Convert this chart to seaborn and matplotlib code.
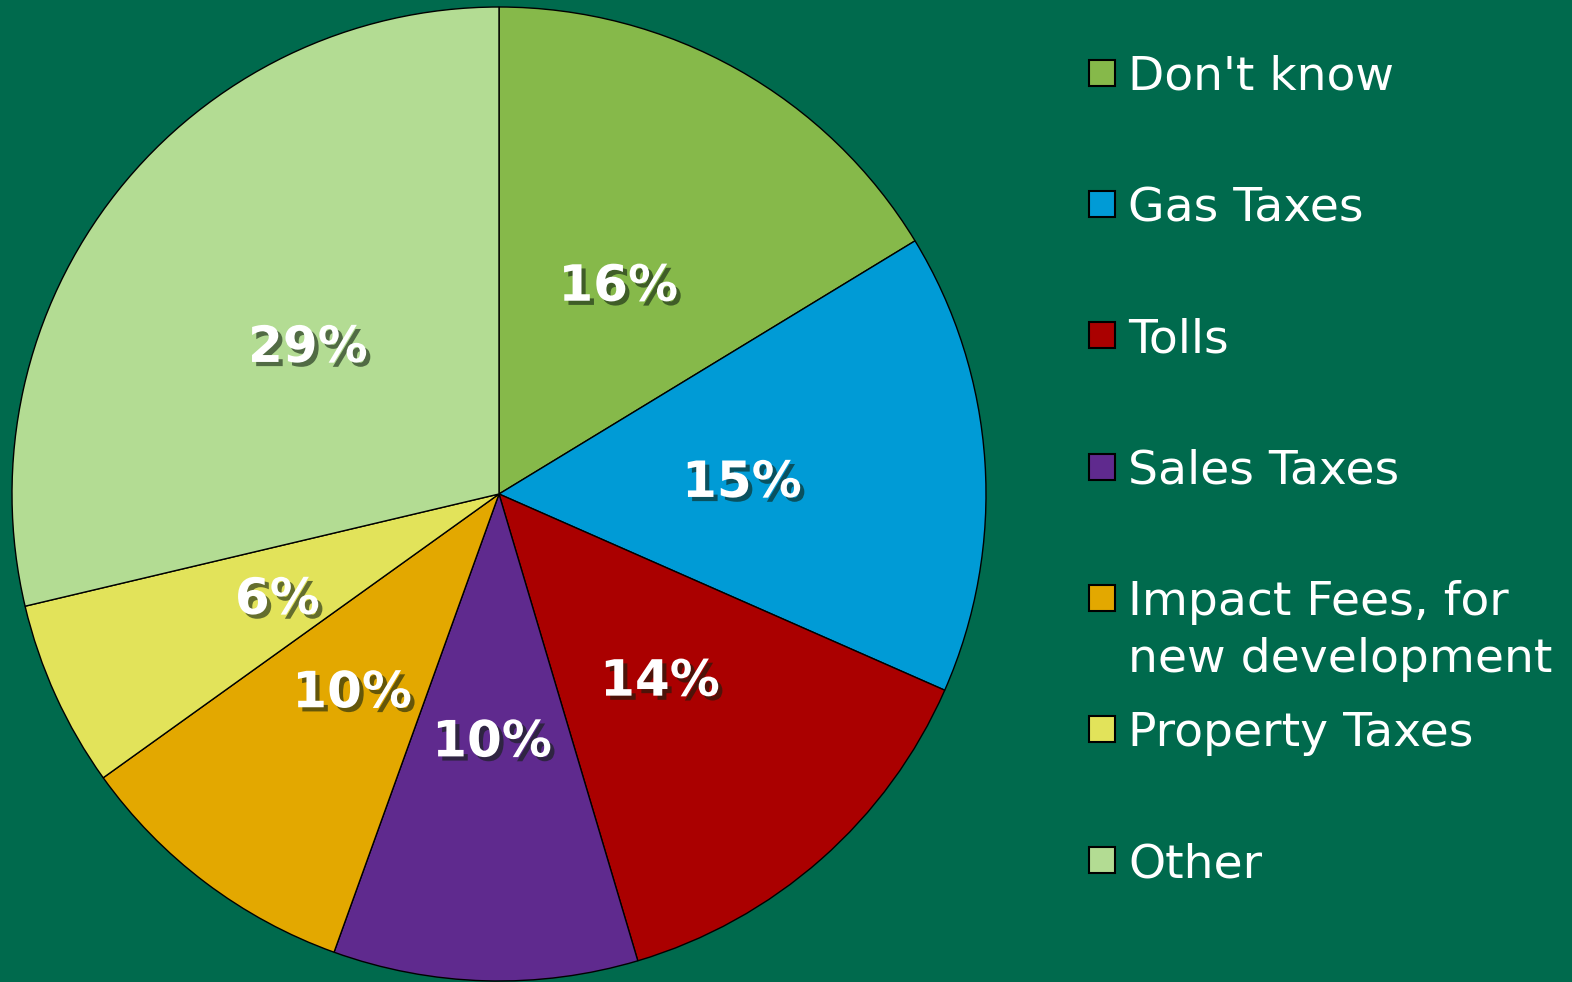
import seaborn as sns
import matplotlib.pyplot as plt
import matplotlib.patheffects as pe
from matplotlib.patches import Rectangle

# survey answers, clockwise from 12 o'clock
labels = ["Don't know", "Gas Taxes", "Tolls", "Sales Taxes",
          "Impact Fees, for\nnew development", "Property Taxes", "Other"]
shares = [16.3, 15.3, 13.8, 10.1, 9.6, 6.2, 28.7]
colors = ["#86B94A", "#009BD6", "#AA0000", "#5F2A8E",
          "#E3A800", "#E2E35A", "#B3DC93"]

bg = "#006A4D"

sns.set_style("white")
plt.rcParams["font.family"] = ["DejaVu Sans"]

W, H = 1572, 982
fig = plt.figure(figsize=(W / 100, H / 100), dpi=100, facecolor=bg)

# pie: centre (499, 494) px, radius ~487 px
r = 487
cx, cy = 499, 494
ax = fig.add_axes([(cx - r) / W, (H - cy - r) / H, 2 * r / W, 2 * r / H])
ax.set_facecolor(bg)

wedges, texts, autotexts = ax.pie(
    shares, colors=colors, startangle=90, counterclock=False,
    autopct="%.0f%%", pctdistance=0.5, radius=1,
    wedgeprops=dict(edgecolor="black", linewidth=1.0),
    textprops=dict(color="white", fontsize=36, fontweight="bold"))
ax.set_xlim(-1, 1)
ax.set_ylim(-1, 1)
ax.set_aspect("equal")
ax.axis("off")

for t in autotexts:
    t.set_va("center_baseline")
    t.set_path_effects([pe.withSimplePatchShadow(offset=(3, -3),
                                                 shadow_rgbFace="#102010",
                                                 alpha=0.6)])

# legend, drawn by hand: first lines evenly spaced, second line overflows
y0, step, line_h = 73, 131.2, 57
for i, (lab, col) in enumerate(zip(labels, colors)):
    yc = y0 + step * i
    sq = 26
    fig.patches.append(Rectangle((1089 / W, (H - yc - sq / 2) / H), sq / W, sq / H,
                                 transform=fig.transFigure, facecolor=col,
                                 edgecolor="black", linewidth=1.5))
    for j, part in enumerate(lab.split("\n")):
        fig.text(1128 / W, (H - (yc + 17 + j * line_h)) / H, part,
                 color="white", fontsize=34, ha="left", va="baseline")

fig.savefig("out.png", dpi=100, facecolor=bg)
